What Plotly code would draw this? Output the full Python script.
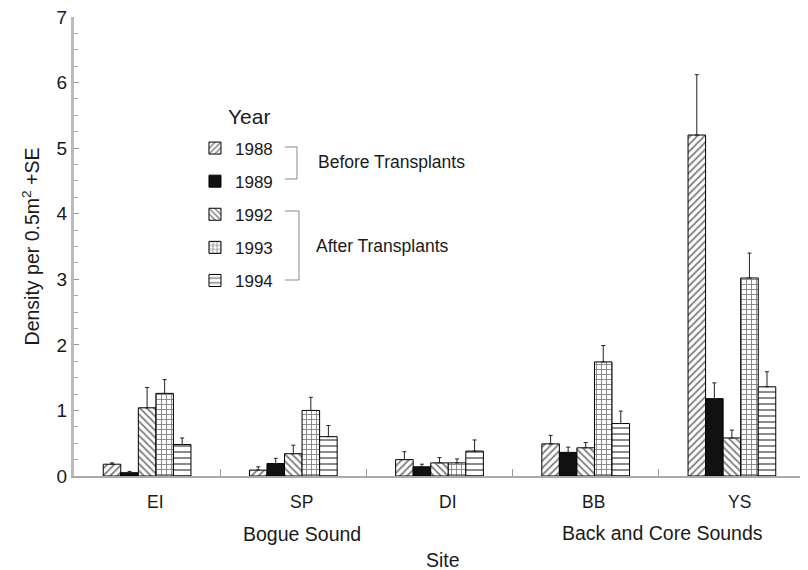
import plotly.graph_objects as go

sites = ["EI", "SP", "DI", "BB", "YS"]
years = ["1988", "1989", "1992", "1993", "1994"]
y1988 = [0.18, 0.09, 0.25, 0.49, 5.20]
e1988 = [0.02, 0.05, 0.12, 0.13, 0.92]
y1989 = [0.05, 0.19, 0.14, 0.36, 1.18]
e1989 = [0.02, 0.08, 0.04, 0.08, 0.24]
y1992 = [1.04, 0.34, 0.20, 0.43, 0.58]
e1992 = [0.31, 0.13, 0.08, 0.08, 0.12]
y1993 = [1.26, 1.00, 0.20, 1.74, 3.02]
e1993 = [0.21, 0.20, 0.06, 0.25, 0.38]
y1994 = [0.48, 0.60, 0.38, 0.80, 1.36]
e1994 = [0.10, 0.17, 0.17, 0.19, 0.23]
y_ticks = [0, 1, 2, 3, 4, 5, 6, 7]
regions = ["Bogue Sound", "Back and Core Sounds"]

values = [y1988, y1989, y1992, y1993, y1994]
errors = [e1988, e1989, e1992, e1993, e1994]
patterns = [
    dict(shape="/", size=5, solidity=0.35, fgcolor="black", bgcolor="white"),
    None,
    dict(shape="\\", size=5, solidity=0.35, fgcolor="black", bgcolor="white"),
    dict(shape="+", size=5, solidity=0.32, fgcolor="black", bgcolor="white"),
    dict(shape="-", size=6, solidity=0.3, fgcolor="black", bgcolor="white"),
]

FONT = "Liberation Sans, Arial, sans-serif"
TXT = "#1a1a1a"

fig = go.Figure()
xs = list(range(len(sites)))
for yr, v, e, p in zip(years, values, errors, patterns):
    marker = dict(color="white" if p else "#111111",
                  line=dict(color="black", width=1))
    if p:
        marker["pattern"] = p
    fig.add_trace(go.Bar(
        x=xs, y=v, name=yr, legendgroup=yr,
        marker=marker,
        error_y=dict(type="data", array=e, arrayminus=[0] * len(e),
                     symmetric=False, color="#222222", thickness=1, width=2),
    ))

# page body has an 8px margin: compensate so the plot area sits at x 74..805, y 17..476
fig.update_layout(
    width=800, height=562,
    margin=dict(l=66, r=3, t=9, b=94),
    paper_bgcolor="white", plot_bgcolor="white",
    barmode="group", bargap=0.4, bargroupgap=0,
    font=dict(family=FONT, size=17, color=TXT),
    showlegend=True,
    legend=dict(x=0.1655, y=0.7527, xanchor="left", yanchor="top",
                font=dict(family=FONT, size=17, color=TXT),
                tracegroupgap=8, bgcolor="rgba(0,0,0,0)", itemclick=False),
    xaxis=dict(range=[-0.5, 4.5], showgrid=False, zeroline=False, automargin=False,
               showline=True, linecolor="#aaaaaa", linewidth=2,
               tickvals=[0.5, 1.5, 2.5, 3.5, 4.5], showticklabels=False,
               ticks="inside", ticklen=7, tickcolor="#999999", tickwidth=1),
    yaxis=dict(range=[0, 7], showgrid=False, zeroline=False, automargin=False,
               showline=True, linecolor="#bbbbbb", linewidth=3,
               tickvals=y_ticks, ticks="inside", ticklen=5, tickcolor="#999999",
               tickfont=dict(size=19, color=TXT), ticklabeloverflow="allow",
               minor=dict(dtick=0.25, ticks="inside", ticklen=4, tickcolor="#aaaaaa"),
               title=dict(text="Density per 0.5m<sup>2</sup> +SE",
                          font=dict(size=19.5, color=TXT), standoff=12)),
)


def py(pix):
    return (476 - pix) / 459.0


def px(pix):
    return (pix - 74) / 731.0


ann = [dict(x=i + 0.055, y=py(502), xref="x", yref="paper", text=s, showarrow=False,
            xanchor="center", yanchor="middle", font=dict(size=17.5, color=TXT))
       for i, s in enumerate(sites)]
ann.append(dict(x=px(302), y=py(534), xref="paper", yref="paper", text=regions[0],
                xanchor="center", yanchor="middle", showarrow=False,
                font=dict(size=19.5, color=TXT)))
ann.append(dict(x=px(662), y=py(533), xref="paper", yref="paper", text=regions[1],
                xanchor="center", yanchor="middle", showarrow=False,
                font=dict(size=19.5, color=TXT)))
ann.append(dict(x=px(443), y=py(560), xref="paper", yref="paper", text="Site",
                xanchor="center", yanchor="middle", showarrow=False,
                font=dict(size=19.5, color=TXT)))
ann.append(dict(x=px(249), y=py(116), xref="paper", yref="paper", text="Year",
                xanchor="center", yanchor="middle", showarrow=False,
                font=dict(size=21, color=TXT)))
ann.append(dict(x=px(316), y=py(162), xref="paper", yref="paper", text="Before Transplants",
                xanchor="left", yanchor="middle", showarrow=False,
                font=dict(size=17.5, color=TXT)))
ann.append(dict(x=px(314), y=py(246), xref="paper", yref="paper", text="After Transplants",
                xanchor="left", yanchor="middle", showarrow=False,
                font=dict(size=17.5, color=TXT)))
fig.update_layout(annotations=ann)


def seg(x0, y0, x1, y1):
    return dict(type="line", xref="paper", yref="paper", x0=px(x0), y0=py(y0),
                x1=px(x1), y1=py(y1), line=dict(color="#888888", width=1))


shapes = [seg(285, 147, 297, 147), seg(297, 147, 297, 179), seg(285, 179, 297, 179),
          seg(285, 211, 299, 211), seg(299, 211, 299, 280), seg(285, 280, 299, 280)]
fig.update_layout(shapes=shapes)

fig.write_html("out.html")
